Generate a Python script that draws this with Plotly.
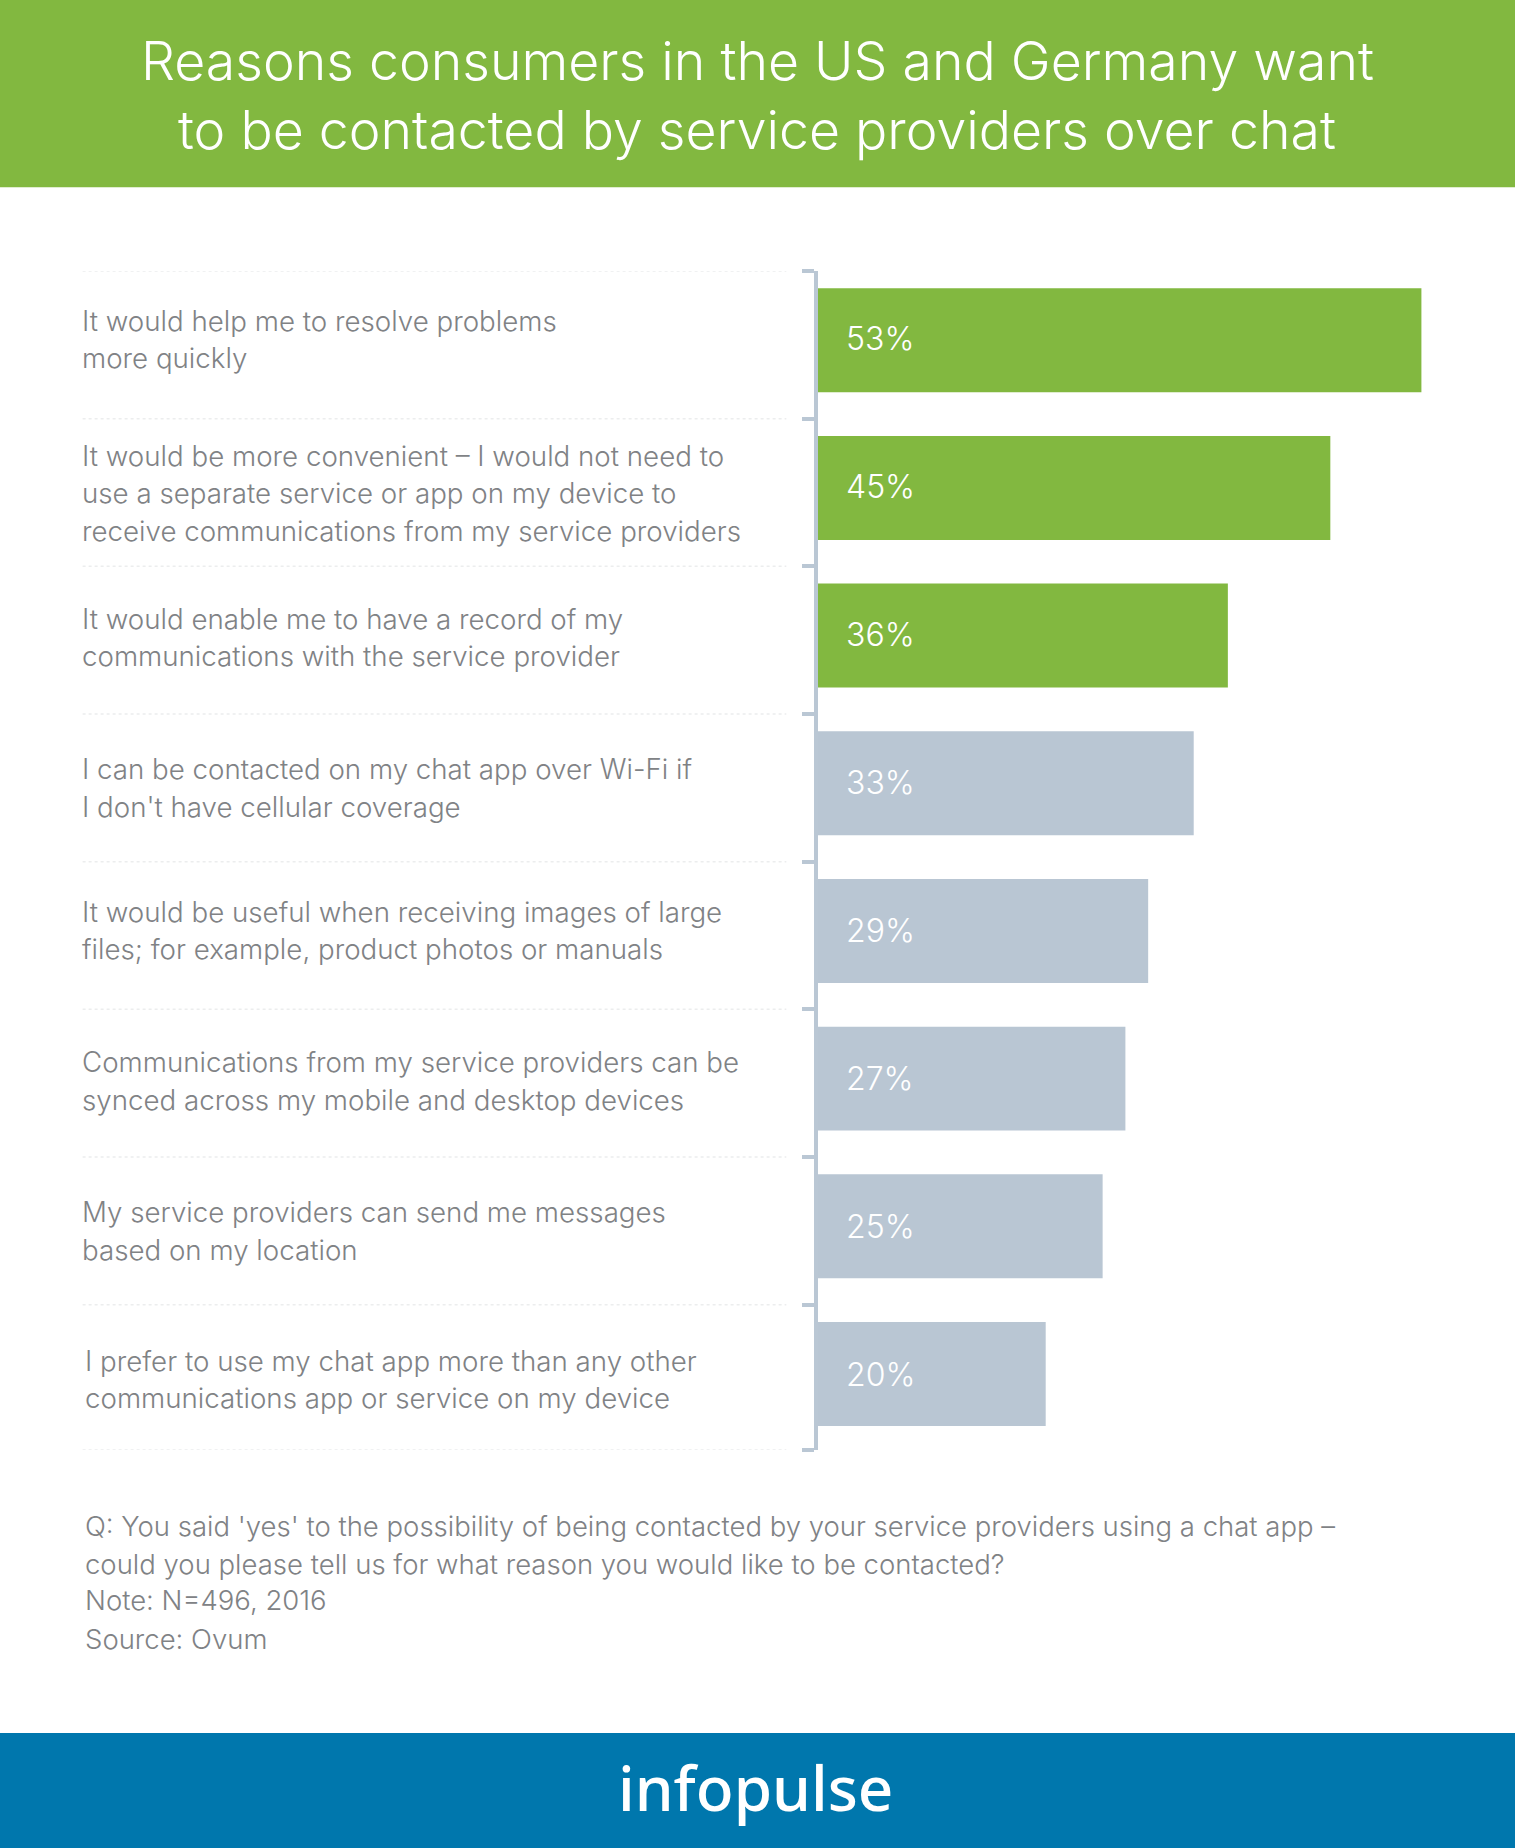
import plotly.graph_objects as go

W, H = 1515, 1848

categories = [
    "It would help me to resolve problems<br>more quickly",
    "It would be more convenient – I would not need to<br>use a separate service or app on my device to<br>receive communications from my service providers",
    "It would enable me to have a record of my<br>communications with the service provider",
    "I can be contacted on my chat app over Wi-Fi if<br>I don't have cellular coverage",
    "It would be useful when receiving images of large<br>files; for example, product photos or manuals",
    "Communications from my service providers can be<br>synced across my mobile and desktop devices",
    "My service providers can send me messages<br>based on my location",
    "I prefer to use my chat app more than any other<br>communications app or service on my device",
]
values = [53, 45, 36, 33, 29, 27, 25, 20]
bar_colors = ["#82B840"] * 3 + ["#B9C6D3"] * 5
title_lines = ["Reasons consumers in the US and Germany want",
               "to be contacted by service providers over chat"]
note_lines = ["Q: You said 'yes' to the possibility of being contacted by your service providers using a chat app –",
              "could you please tell us for what reason you would like to be contacted?",
              "Note: N=496, 2016",
              "Source: Ovum"]
brand = "infopulse"

# layout constants
FONT = "Inter"
GREY = "#808285"
AXIS = "#BAC7D4"
L, R, T, B = 817.7, 1515, 270.7, 1450
label_x = [79.5] * 7 + [82]
label_shift = [-1, 5.5, 2, 4.5, -0.5, 2.5, 4.5, 5.5]
value_shift = [1.9, 1.5, 1.1, 0.7, 0.3, -0.1, -0.5, -1]
LINE = 37.5
LABEL_SIZE = 27.7

def px(x):
    return (x - L) / (R - L)

def py(y):
    return (B - y) / (B - T)

fig = go.Figure(go.Bar(
    x=values, y=categories, orientation="h",
    marker=dict(color=bar_colors, line=dict(width=0)),
    width=0.704, hoverinfo="skip",
))

annotations = []
for cat, v, lx, sh, vs in zip(categories, values, label_x, label_shift, value_shift):
    lines = cat.split("<br>")
    for i, ln in enumerate(lines):
        off = (i - (len(lines) - 1) / 2) * LINE + sh
        annotations.append(dict(
            x=px(lx), xref="paper", y=cat, yref="y", yshift=-off,
            text=ln, showarrow=False, xanchor="left", yanchor="middle",
            font=dict(family=FONT, size=LABEL_SIZE, color=GREY, weight=300),
        ))
    annotations.append(dict(
        x=0, xref="x", y=cat, yref="y", xshift=26, yshift=vs,
        text=f"{v}%", showarrow=False, xanchor="left", yanchor="middle",
        font=dict(family=FONT, size=32, color="white", weight=300),
    ))

for ln, y in zip(title_lines, [60, 129]):
    annotations.append(dict(
        x=px(757), xref="paper", y=py(y), yref="paper", text=ln, showarrow=False,
        xanchor="center", yanchor="middle",
        font=dict(family=FONT, size=53.6, color="white", weight=300),
    ))
for ln, y in zip(note_lines, [1526, 1564, 1600.5, 1639]):
    annotations.append(dict(
        x=px(82), xref="paper", y=py(y), yref="paper", text=ln, showarrow=False,
        xanchor="left", yanchor="middle",
        font=dict(family=FONT, size=27.5, color=GREY, weight=300),
    ))
annotations.append(dict(
    x=px(755), xref="paper", y=py(1787), yref="paper", text=brand, showarrow=False,
    xanchor="center", yanchor="middle",
    font=dict(family="Noto Sans", size=62, color="white", weight=500),
))

OFFSET = -0.469
LAST = 7.515
tick_positions = [min(i + OFFSET, LAST) for i in range(9)]

shapes = [
    dict(type="rect", xref="paper", yref="paper", x0=px(-5), x1=px(W + 5), y0=py(-5), y1=py(187),
         fillcolor="#82B840", line=dict(width=0), layer="below"),
    dict(type="rect", xref="paper", yref="paper", x0=px(-5), x1=px(W + 5), y0=py(1733), y1=py(H + 5),
         fillcolor="#0077AD", line=dict(width=0), layer="below"),
]
for t in tick_positions:
    shapes.append(dict(type="line", xref="paper", yref="y", x0=px(82), x1=px(786), y0=t, y1=t,
                       line=dict(color="#ECEDEE", width=1.5, dash="dot"), layer="below"))

fig.update_layout(
    width=W, height=H, showlegend=False, autosize=False,
    margin=dict(l=L, r=W - R, t=T, b=H - B, pad=0),
    paper_bgcolor="white", plot_bgcolor="white",
    xaxis=dict(range=[0, (R - L) / 11.39], visible=False, fixedrange=True),
    yaxis=dict(
        type="category", categoryorder="array", categoryarray=categories,
        range=[LAST, OFFSET], showgrid=False, zeroline=False,
        showline=True, linecolor=AXIS, linewidth=3.5,
        tickmode="array", tickvals=tick_positions, ticktext=[""] * 9,
        ticks="outside", ticklen=12, tickwidth=3.5, tickcolor=AXIS,
        showticklabels=False, fixedrange=True,
    ),
    annotations=annotations, shapes=shapes,
)

fig.write_html("out.html", config=dict(displayModeBar=False),
               post_script="document.body.style.margin='0';document.documentElement.style.overflow='hidden';")
